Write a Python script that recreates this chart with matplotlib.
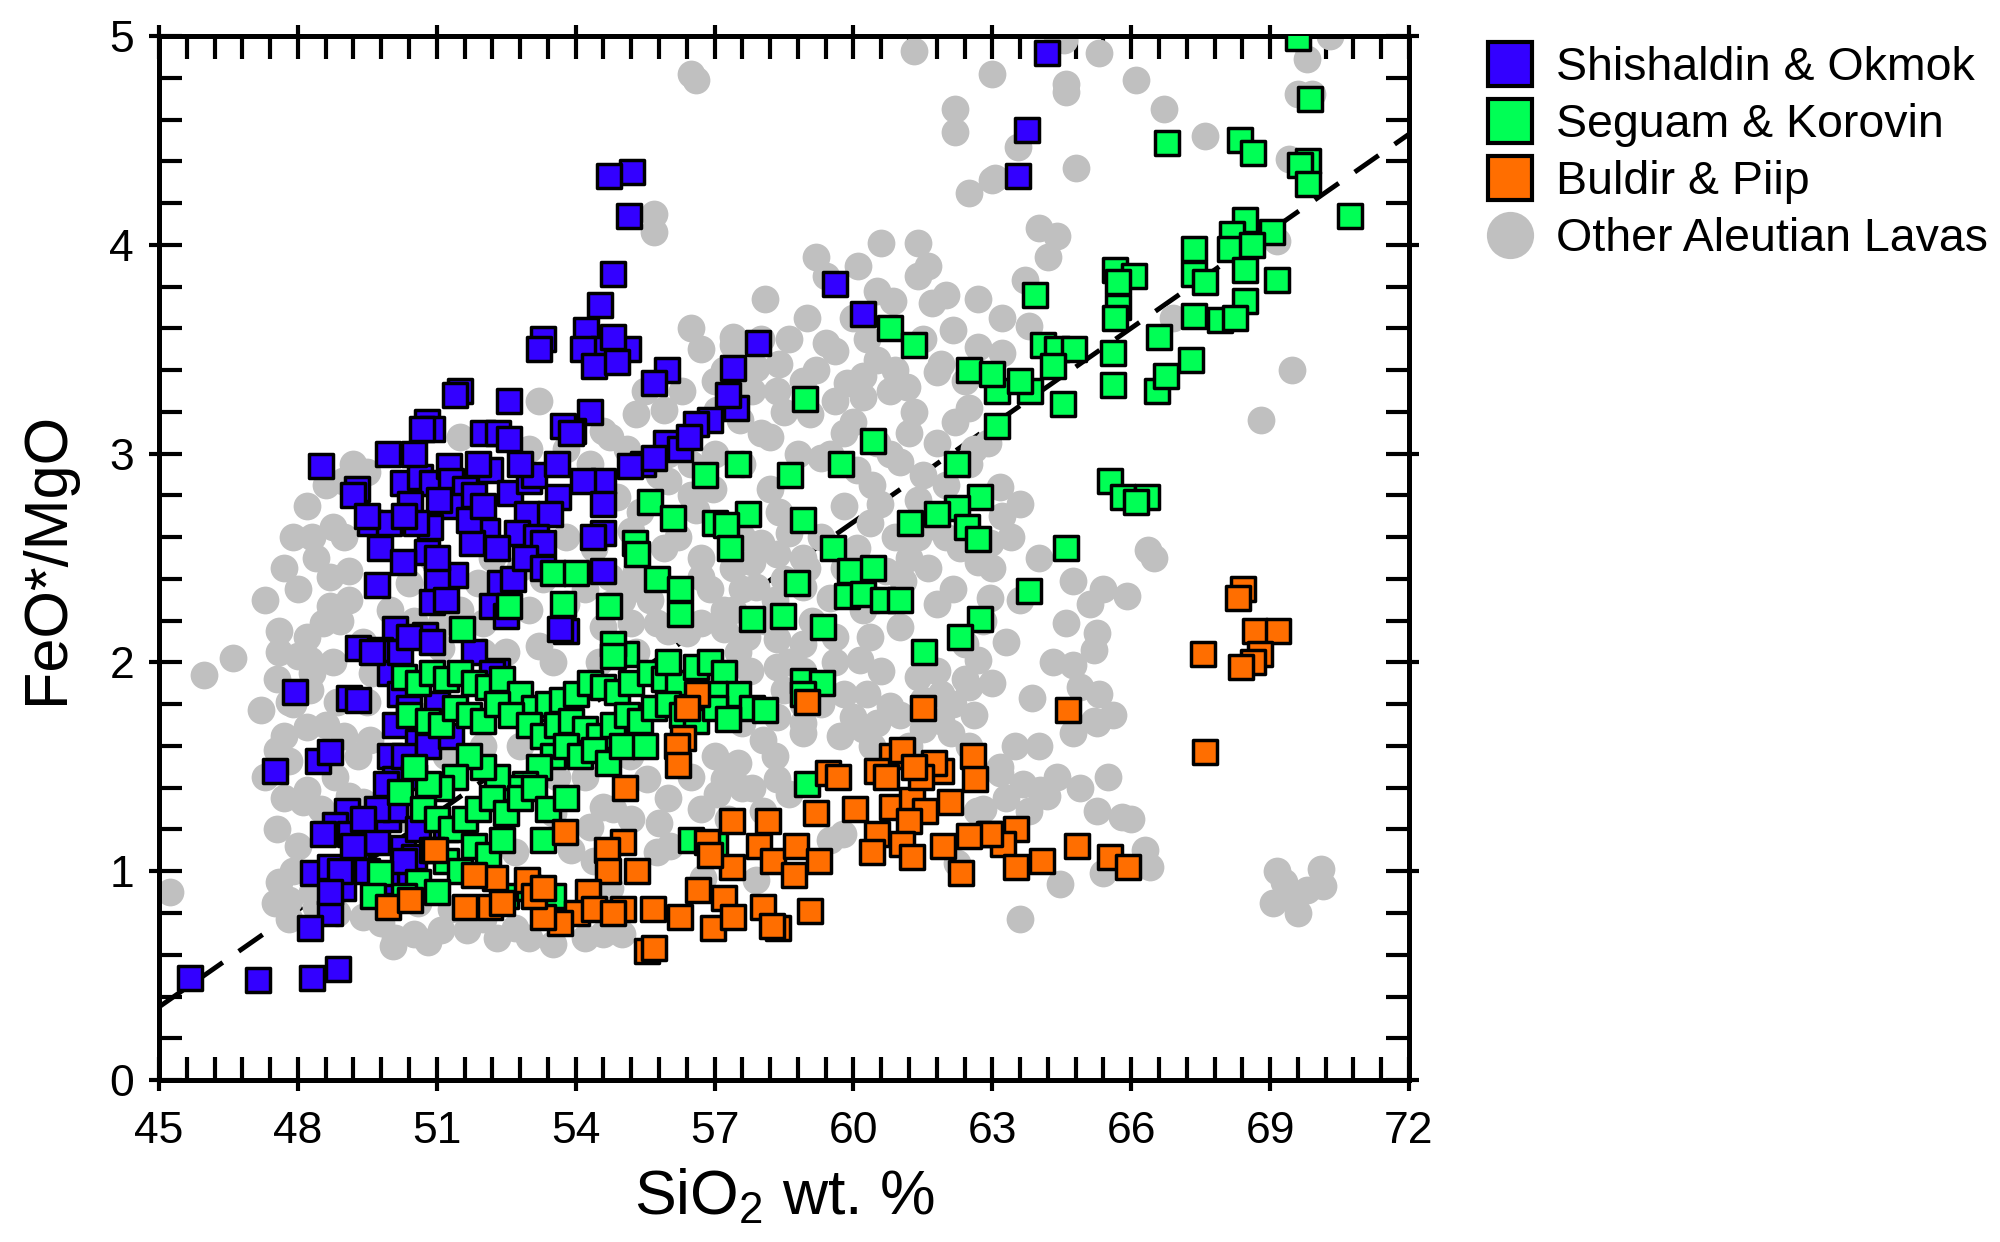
import numpy as np
import matplotlib.pyplot as plt
from matplotlib.lines import Line2D
from matplotlib.ticker import MultipleLocator, NullFormatter

plt.rcParams['font.family'] = ['Liberation Sans', 'DejaVu Sans']
plt.rcParams['mathtext.fontset'] = 'custom'
plt.rcParams['mathtext.rm'] = 'Liberation Sans'
plt.rcParams['mathtext.it'] = 'Liberation Sans:italic'

# SiO2 (wt. %), FeO*/MgO pairs for each group
shishaldin_okmok = np.array([
    (64.17, 4.92), (63.74, 4.55), (63.56, 4.33),
    (55.21, 4.35), (54.72, 4.33), (55.16, 4.14), (54.81, 3.86), (54.52, 3.71), (54.23, 3.59),
    (54.59, 3.50), (55.14, 3.50), (54.16, 3.50), (54.8, 3.56), (54.4, 3.42), (54.9, 3.44),
    (53.3, 3.55), (53.2, 3.50), (55.97, 3.40), (55.7, 3.34), (57.40, 3.41), (57.94, 3.53),
    (59.60, 3.81), (60.21, 3.67), (57.47, 3.22), (57.3, 3.28), (56.90, 3.16), (56.60, 3.14),
    (55.96, 3.05), (56.25, 3.02), (55.46, 2.95), (55.17, 2.94), (54.60, 2.87), (54.16, 2.87),
    (54.60, 2.76), (54.60, 2.62), (54.38, 2.60), (54.60, 2.44), (54.31, 3.20), (53.95, 3.11),
    (56.45, 3.08), (55.7, 2.98), (53.8, 2.15),
    (51.5, 3.30), (51.4, 3.28), (52.56, 3.25), (50.78, 3.15), (50.9, 3.12), (50.67, 3.12),
    (52.0, 3.10), (52.33, 3.10), (52.56, 3.07), (53.73, 3.13), (53.9, 3.10), (49.95, 3.00),
    (48.49, 2.94), (49.28, 2.83), (49.2, 2.80), (50.27, 2.86), (50.64, 2.89), (50.9, 2.86),
    (51.27, 2.94), (51.3, 2.87), (51.6, 2.83), (52.14, 2.92), (52.58, 2.81), (53.0, 2.87),
    (53.1, 2.90), (53.62, 2.79), (52.94, 2.71), (53.45, 2.71), (50.42, 2.76), (51.35, 2.75),
    (51.05, 2.78), (51.8, 2.80), (49.56, 2.67), (49.96, 2.67), (49.5, 2.70), (50.85, 2.65),
    (50.55, 2.67), (52.08, 2.63), (52.73, 2.62), (53.15, 2.60), (53.3, 2.57), (49.77, 2.55),
    (51.75, 2.57), (50.78, 2.53), (50.27, 2.48), (49.7, 2.37), (51.39, 2.42), (51.0, 2.40),
    (50.89, 2.29), (52.36, 2.38), (52.65, 2.40), (52.2, 2.27), (52.5, 2.22), (50.1, 2.16),
    (50.75, 2.13), (49.3, 2.07), (49.77, 2.06), (50.05, 2.05), (53.66, 2.16), (52.3, 1.96),
    (47.94, 1.86), (49.1, 1.83),
    (50.3, 2.70), (51.0, 2.50), (51.7, 2.68), (52.0, 2.75), (52.3, 2.55), (52.9, 2.50),
    (53.3, 2.45), (53.6, 2.95), (50.5, 3.00), (51.9, 2.95), (52.8, 2.95), (51.2, 2.30),
    (47.5, 1.48), (48.44, 1.53), (48.69, 1.57), (49.05, 1.29), (48.8, 1.22), (48.55, 1.18),
    (49.12, 1.18), (48.33, 0.99), (48.7, 1.02), (48.98, 0.92), (49.27, 1.05), (49.7, 1.14),
    (50.28, 1.11), (50.5, 1.07), (50.28, 0.98), (48.69, 0.80), (48.26, 0.73), (45.67, 0.49),
    (47.14, 0.48), (48.3, 0.49), (48.87, 0.53), (50.0, 1.55), (50.1, 1.44), (49.95, 1.25),
    (50.1, 1.30), (50.0, 1.95), (50.2, 1.85), (50.4, 1.78), (50.1, 1.70), (50.6, 1.62),
    (50.3, 1.55), (49.9, 1.42), (50.5, 1.45), (50.8, 1.60), (51.0, 1.80), (51.3, 1.65),
    (50.2, 2.05), (50.4, 2.12), (50.9, 2.10), (49.6, 2.05), (51.8, 2.05), (52.2, 1.95),
    (49.3, 1.82), (51.2, 1.20), (50.6, 1.20), (49.7, 1.30), (49.4, 1.25), (49.2, 1.12),
    (48.9, 1.00), (49.5, 1.00), (49.9, 0.95), (50.3, 1.05), (48.7, 0.90),
])

seguam_korovin = np.array([
    (69.6, 4.99), (69.86, 4.70), (66.77, 4.49), (68.35, 4.50), (68.63, 4.44), (69.82, 4.40),
    (69.64, 4.38), (69.82, 4.29), (70.72, 4.14), (68.46, 4.12), (69.03, 4.06), (68.17, 4.05),
    (68.13, 3.98), (68.6, 4.00), (67.35, 3.98), (67.35, 3.86), (65.65, 3.88), (66.05, 3.85),
    (65.72, 3.82), (68.46, 3.88), (67.6, 3.82), (69.14, 3.83), (68.46, 3.73), (65.72, 3.70),
    (63.92, 3.76), (67.35, 3.66), (67.92, 3.64), (68.25, 3.65), (65.65, 3.65), (66.6, 3.56),
    (64.1, 3.52), (64.4, 3.50), (64.77, 3.50), (67.3, 3.45), (65.6, 3.48), (64.3, 3.42),
    (65.6, 3.33), (66.55, 3.30), (66.76, 3.37), (64.53, 3.24), (63.81, 3.30), (63.09, 3.30),
    (63.6, 3.35), (63.09, 3.13), (62.5, 3.40), (63.0, 3.38), (60.8, 3.60), (61.3, 3.52),
    (65.54, 2.87), (65.83, 2.79), (66.33, 2.79), (66.1, 2.77), (64.6, 2.55), (63.8, 2.34),
    (58.95, 3.26), (60.43, 3.06), (62.23, 2.95), (62.73, 2.79), (62.23, 2.74), (62.45, 2.65),
    (62.7, 2.59), (61.8, 2.71), (61.22, 2.67), (59.74, 2.95), (57.51, 2.95), (58.63, 2.90),
    (56.79, 2.90), (57.73, 2.71), (57.0, 2.67), (57.25, 2.66), (55.6, 2.77), (56.1, 2.69),
    (58.9, 2.68), (57.33, 2.55), (59.56, 2.55), (55.28, 2.57), (55.32, 2.52), (59.92, 2.44),
    (60.42, 2.45), (58.77, 2.38), (55.75, 2.40), (56.25, 2.35), (56.25, 2.23), (59.85, 2.32),
    (60.21, 2.33), (60.64, 2.30), (61.0, 2.30), (57.8, 2.21), (58.48, 2.22), (59.35, 2.17),
    (62.73, 2.21), (62.3, 2.12), (61.53, 2.05), (54.73, 2.27), (55.09, 2.04), (54.8, 2.09),
    (54.8, 2.03), (58.9, 1.91), (59.32, 1.90), (58.9, 1.85), (59.0, 1.42),
    (53.51, 2.43), (52.57, 2.27), (51.55, 2.16), (53.73, 2.28), (54.0, 2.43),
    (50.3, 1.93), (50.6, 1.90), (50.9, 1.95), (51.2, 1.92), (51.5, 1.95), (51.8, 1.90),
    (52.1, 1.88), (52.4, 1.92), (52.8, 1.85), (53.1, 1.78), (53.4, 1.80), (53.7, 1.82),
    (54.0, 1.85), (54.3, 1.90), (54.6, 1.88), (54.9, 1.86), (55.2, 1.90), (55.6, 1.95),
    (55.9, 1.92), (56.2, 1.90), (56.6, 1.98), (56.9, 2.00), (57.2, 1.95), (57.5, 1.85),
    (57.8, 1.78), (58.1, 1.77), (56.0, 2.00), (57.0, 1.85),
    (50.4, 1.75), (50.8, 1.72), (51.1, 1.70), (51.4, 1.78), (51.7, 1.75), (52.0, 1.72),
    (52.3, 1.80), (52.6, 1.75), (53.0, 1.70), (53.3, 1.65), (53.6, 1.70), (53.9, 1.72),
    (54.2, 1.68), (54.5, 1.65), (54.8, 1.70), (55.1, 1.75), (55.4, 1.72), (55.7, 1.78),
    (56.0, 1.80), (56.3, 1.75), (56.6, 1.72), (57.0, 1.78), (57.3, 1.73),
    (53.5, 1.55), (53.8, 1.60), (54.1, 1.55), (54.4, 1.58), (54.7, 1.52), (55.0, 1.60),
    (55.5, 1.60), (53.2, 1.50), (52.9, 1.42), (52.6, 1.40), (52.3, 1.45), (52.0, 1.50),
    (51.7, 1.55), (51.4, 1.45), (51.1, 1.40), (50.8, 1.42), (50.5, 1.50), (50.2, 1.38),
    (50.7, 1.30), (51.0, 1.25), (51.3, 1.20), (51.6, 1.25), (51.9, 1.30), (52.2, 1.35),
    (52.5, 1.28), (52.8, 1.35), (53.1, 1.40), (53.4, 1.30), (53.8, 1.35), (53.3, 1.15),
    (50.9, 1.10), (51.2, 1.05), (51.5, 1.00), (51.8, 1.12), (52.1, 1.08), (52.4, 1.15),
    (50.6, 0.95), (49.77, 0.99), (49.63, 0.88), (50.3, 0.88), (51.0, 0.90), (52.5, 0.88),
    (53.0, 0.92), (53.5, 0.88), (56.5, 1.15), (57.0, 1.13),
])

buldir_piip = np.array([
    (68.42, 2.35), (68.31, 2.31), (68.67, 2.15), (69.18, 2.15), (67.55, 2.04), (68.78, 2.04),
    (68.64, 2.00), (68.38, 1.98), (67.59, 1.57), (64.64, 1.77), (61.5, 1.78), (59.0, 1.81),
    (56.61, 1.85), (56.4, 1.78), (56.32, 1.64), (56.18, 1.60), (56.2, 1.51), (55.06, 1.40),
    (53.77, 1.19), (55.03, 1.14), (54.67, 1.10), (54.7, 1.00), (55.32, 1.00), (54.27, 0.90),
    (54.02, 0.80), (55.03, 0.82), (55.68, 0.82), (55.53, 0.62), (55.7, 0.63), (56.25, 0.78),
    (56.65, 0.91), (57.2, 0.87), (56.97, 0.73), (57.4, 0.78), (58.05, 0.83), (58.38, 0.73),
    (58.25, 0.74), (59.06, 0.81), (56.83, 1.14), (57.37, 1.24), (57.37, 1.02), (56.9, 1.08),
    (58.16, 1.24), (57.95, 1.12), (58.27, 1.05), (58.76, 1.12), (58.72, 0.98), (59.25, 1.05),
    (59.2, 1.28), (59.46, 1.47), (59.67, 1.45), (60.03, 1.30), (60.5, 1.18), (60.39, 1.09),
    (60.83, 1.55), (61.05, 1.58), (60.5, 1.48), (60.83, 1.31), (61.26, 1.34), (61.55, 1.29),
    (61.19, 1.24), (61.05, 1.13), (61.26, 1.07), (61.9, 1.48), (61.75, 1.52), (62.58, 1.55),
    (62.62, 1.44), (62.08, 1.33), (61.93, 1.12), (62.32, 0.99), (62.93, 1.18), (61.46, 1.45),
    (61.3, 1.50), (60.7, 1.45), (63.52, 1.20), (63.24, 1.13), (62.95, 1.18), (63.52, 1.02),
    (64.07, 1.05), (64.82, 1.12), (65.54, 1.07), (65.93, 1.02), (62.5, 1.17),
    (50.96, 1.10), (52.26, 0.97), (52.94, 0.96), (51.61, 0.83), (52.15, 0.83), (53.66, 0.75),
    (49.95, 0.83), (50.42, 0.86), (52.4, 0.85), (53.3, 0.78), (53.1, 0.88), (54.4, 0.82),
    (54.8, 0.80), (51.8, 0.98), (53.3, 0.92),
])

other_aleutian = np.array([
    (56.5, 4.82), (56.6, 4.79), (61.3, 4.93), (63.0, 4.82), (64.4, 5.0), (64.55, 4.98),
    (65.3, 4.92), (64.6, 4.77), (64.6, 4.73), (66.1, 4.79), (69.8, 4.89), (70.3, 5.0),
    (69.6, 4.72), (69.9, 4.72), (62.2, 4.65), (62.2, 4.54), (66.7, 4.65), (67.6, 4.52),
    (63.55, 4.47), (63.0, 4.31), (62.5, 4.25), (64.8, 4.37), (63.05, 4.32), (69.4, 4.41),
    (55.7, 4.15), (55.7, 4.06), (61.4, 4.01), (60.6, 4.01), (61.6, 3.9), (59.2, 3.94),
    (60.1, 3.9), (64.0, 4.08), (64.4, 4.04), (64.2, 3.94), (69.15, 4.02),
    (63.7, 3.83), (63.2, 3.65), (63.8, 3.61), (61.4, 3.85), (59.4, 3.85), (60.5, 3.78),
    (60.85, 3.73), (61.7, 3.72), (62.0, 3.76), (62.7, 3.74), (60.0, 3.65), (58.1, 3.74),
    (62.15, 3.59), (66.9, 3.65), (59.4, 3.53), (59.6, 3.49), (58.6, 3.55), (56.7, 3.5),
    (57.4, 3.56), (57.9, 3.41), (58.4, 3.43), (61.9, 3.43), (62.7, 3.51), (60.5, 3.45),
    (60.9, 3.4), (60.2, 3.37), (63.2, 3.48), (69.47, 3.4), (53.2, 3.25),
    (58.35, 3.3), (59.06, 3.19), (59.86, 3.34), (60.2, 3.27), (60.8, 3.3), (61.15, 3.32),
    (61.8, 3.39), (62.5, 3.22), (55.3, 3.19), (55.9, 3.21), (57.05, 3.21), (57.55, 3.16),
    (54.6, 3.11), (54.75, 3.08), (58.2, 3.08), (68.8, 3.16), (61.3, 3.2), (59.6, 3.25),
    (62.6, 3.02), (61.0, 2.96), (58.8, 3.0), (59.3, 2.98), (60.07, 2.92), (55.1, 3.02),
    (56.0, 2.87), (51.5, 3.08), (53.0, 3.02), (53.8, 3.02), (48.97, 2.87), (49.5, 2.91),
    (63.16, 2.84), (60.5, 3.05), (60.57, 2.76), (61.4, 2.78), (61.4, 2.6), (61.8, 2.65),
    (56.96, 2.83), (56.6, 2.73), (58.2, 2.83), (58.4, 2.72), (59.8, 2.75), (60.36, 2.67),
    (58.6, 2.62), (54.9, 2.79), (55.4, 2.72), (55.2, 2.63), (48.75, 2.65), (63.6, 2.76),
    (53.8, 2.6), (62.7, 2.48), (62.15, 2.35), (61.07, 2.39), (58.0, 2.57), (57.8, 2.48),
    (58.35, 2.52), (58.9, 2.5), (60.07, 2.55), (60.7, 2.44), (55.3, 2.44), (54.75, 2.41),
    (56.7, 2.5), (56.7, 2.41), (48.7, 2.41), (49.1, 2.44), (50.4, 2.38), (51.9, 2.38),
    (66.36, 2.54), (66.5, 2.5), (62.95, 2.57), (64.75, 2.39), (61.8, 2.28), (58.9, 2.36),
    (59.5, 2.31), (57.9, 2.36), (57.6, 2.35), (57.2, 2.25), (54.75, 2.28), (48.7, 2.27),
    (47.3, 2.30), (49.1, 2.3), (52.4, 2.3), (53.0, 2.25), (53.8, 2.28), (65.4, 2.35),
    (65.9, 2.32), (65.1, 2.28), (62.95, 2.31), (64.6, 2.19), (61.0, 2.17), (62.4, 2.09),
    (56.7, 2.19), (57.2, 2.16), (57.7, 2.12), (58.35, 2.11), (58.9, 2.09), (59.6, 2.12),
    (60.36, 2.12), (60.14, 2.01), (59.6, 2.0), (55.75, 2.19), (55.2, 2.19), (54.6, 2.17),
    (56.4, 2.14), (48.2, 2.12), (48.55, 2.19), (52.0, 2.19), (51.1, 2.19), (51.1, 2.07),
    (53.2, 2.08), (48.0, 2.03), (47.6, 2.05), (46.6, 2.02), (48.26, 2.01), (48.75, 2.0),
    (65.26, 2.14), (65.2, 2.06), (64.3, 2.0), (64.75, 1.99), (62.7, 2.01), (61.8, 1.96),
    (62.4, 1.92), (61.4, 1.93), (60.6, 1.96), (60.8, 1.79), (61.5, 1.82), (62.15, 1.8),
    (58.9, 1.96), (58.35, 1.98), (57.76, 1.96), (58.5, 1.87), (58.9, 1.8), (47.55, 1.92),
    (45.97, 1.94), (47.8, 1.81), (48.26, 1.87), (48.84, 1.81), (49.5, 1.81), (63.85, 1.83),
    (64.9, 1.88), (65.3, 1.85), (58.35, 1.74), (57.6, 1.71), (58.9, 1.71), (60.0, 1.74),
    (60.5, 1.71), (47.2, 1.77), (58.9, 1.66), (60.2, 1.68), (61.5, 1.68), (62.1, 1.66),
    (58.05, 1.63), (48.2, 1.69), (49.56, 1.63), (65.6, 1.75), (65.2, 1.72), (64.75, 1.66),
    (65.26, 1.71), (47.7, 1.65), (57.5, 1.52), (57.2, 1.44), (58.35, 1.44), (55.54, 1.44),
    (55.17, 1.55), (47.55, 1.58), (47.8, 1.53), (48.2, 1.39), (63.16, 1.5), (63.16, 1.47),
    (63.66, 1.42), (64.03, 1.39), (57.6, 1.40), (57.05, 1.37), (58.6, 1.37), (58.05, 1.29),
    (54.6, 1.31), (54.3, 1.21), (55.8, 1.23), (47.55, 1.2), (48.1, 1.33), (49.1, 1.36),
    (49.4, 1.33), (53.5, 1.28), (62.67, 1.29), (59.77, 1.18), (64.18, 1.36), (63.8, 1.29),
    (65.26, 1.29), (65.8, 1.26), (66.0, 1.25), (56.04, 1.12), (55.75, 1.09), (48.0, 1.12),
    (52.7, 1.09), (62.24, 1.04), (59.5, 1.15), (66.3, 1.10), (66.4, 1.02), (69.15, 1.0),
    (70.1, 1.01), (56.75, 0.97), (57.9, 0.96), (54.74, 0.92), (47.8, 0.86), (48.4, 0.83),
    (48.84, 0.80), (45.24, 0.9), (64.46, 0.94), (65.4, 0.99), (69.06, 0.85), (69.6, 0.80),
    (70.15, 0.93), (69.8, 0.91), (69.4, 0.88), (69.3, 0.95), (47.8, 0.77), (49.4, 0.78),
    (50.1, 0.68), (50.05, 0.64), (50.5, 0.7), (50.8, 0.66), (51.1, 0.72), (51.65, 0.72),
    (52.7, 0.73), (52.0, 0.77), (63.6, 0.77),
    (47.7, 2.45), (47.9, 2.6), (48.2, 2.75), (48.4, 2.5), (48.0, 2.35), (47.6, 2.15),
    (48.3, 1.95), (48.9, 2.2), (49.0, 2.6), (48.6, 1.7), (49.0, 1.65), (49.3, 1.55),
    (48.8, 1.45), (48.5, 1.3), (48.9, 1.25), (47.9, 1.0), (48.3, 0.9), (47.6, 0.95),
    (47.7, 1.35), (47.9, 1.8), (49.4, 2.1), (49.6, 1.95), (50.0, 2.25), (50.5, 2.2),
    (50.9, 2.5), (51.5, 2.25), (52.2, 2.5), (52.8, 2.45), (53.3, 2.4), (53.0, 2.6),
    (52.5, 2.05), (53.5, 2.0), (52.0, 2.05), (50.6, 0.85), (51.3, 0.82), (52.3, 0.68),
    (53.0, 0.68), (53.5, 0.65), (54.2, 0.68), (54.6, 0.7), (55.0, 0.7), (49.8, 0.75),
    (50.4, 1.25), (51.2, 1.55), (52.0, 1.6), (52.8, 1.6), (53.6, 1.45), (54.2, 1.45),
    (54.8, 1.3), (53.9, 1.1), (54.4, 1.05), (62.8, 1.3), (63.3, 1.35), (62.5, 1.6),
    (63.5, 1.6), (64.0, 1.6), (64.4, 1.45), (64.9, 1.4), (65.5, 1.45),
    (56.0, 3.0), (56.5, 2.95), (57.0, 3.0), (57.6, 2.95), (58.0, 3.1), (58.5, 3.2),
    (59.2, 3.4), (59.8, 3.1), (60.4, 2.85), (61.2, 3.1), (61.8, 3.05), (62.2, 3.15),
    (62.0, 2.85), (62.3, 2.55), (61.6, 2.45), (60.9, 2.6), (60.2, 2.25), (59.3, 2.6),
    (59.1, 2.2), (58.3, 2.3), (57.4, 2.45), (56.2, 2.6), (55.8, 2.9), (55.6, 2.3),
    (55.0, 2.3), (54.4, 2.55), (54.2, 2.35), (57.0, 1.9), (56.3, 1.85), (57.5, 2.05),
    (59.8, 1.85), (60.3, 1.85), (61.0, 1.75), (61.9, 1.72), (62.6, 1.75), (63.0, 1.9),
    (63.3, 2.1), (63.6, 2.3), (64.0, 2.5), (63.4, 2.6), (56.5, 3.6), (57.4, 3.52),
    (54.3, 2.95), (55.5, 3.3), (56.3, 3.3), (57.0, 3.35), (57.8, 3.3), (58.9, 3.35),
    (59.5, 3.0), (60.0, 3.15), (60.8, 3.0), (61.5, 2.9), (62.0, 2.6), (61.2, 2.5),
    (60.5, 2.3), (59.8, 2.45), (59.0, 2.45), (58.5, 2.4), (57.6, 2.6), (56.9, 2.35),
    (56.5, 2.8), (55.9, 2.55), (55.2, 2.35), (54.5, 2.0), (55.3, 2.05), (56.0, 2.15),
    (57.4, 2.25), (58.1, 2.2), (58.6, 2.0), (59.3, 1.8), (59.7, 1.65), (60.4, 1.6),
    (61.2, 1.6), (61.9, 1.85), (62.5, 1.88), (62.8, 2.2), (63.0, 2.45), (63.2, 2.7),
    (62.5, 2.95), (62.9, 3.05), (61.5, 3.55), (60.3, 3.55), (59.0, 3.65), (58.0, 3.55),
    (57.2, 3.4), (62.4, 3.35), (56.5, 1.45), (57.0, 1.55), (56.7, 1.3), (57.3, 1.25),
    (56.0, 1.35), (55.2, 1.25), (57.8, 1.4), (58.3, 1.55), (48.6, 2.85), (48.3, 2.6),
    (47.5, 0.85), (47.3, 1.45), (49.2, 2.95),
])

# regression line end points
trend_x = [45, 72]
trend_y = [0.35, 4.53]

labels = ['Shishaldin & Okmok', 'Seguam & Korovin', 'Buldir & Piip', 'Other Aleutian Lavas']
colors = ['#3300ff', '#00ff55', '#ff6e00', '#c0c0c0']

fig = plt.figure(figsize=(20, 12.42), dpi=100)
ax = fig.add_axes([0.0795, 0.1304, 0.625, 0.8406])

ax.plot(trend_x, trend_y, color='black', lw=3.5, dashes=(6, 4), zorder=1)
ax.scatter(other_aleutian[:, 0], other_aleutian[:, 1], s=400, marker='o',
           color=colors[3], linewidths=0, zorder=2)
for grp, col, z in [(shishaldin_okmok, colors[0], 3), (seguam_korovin, colors[1], 4),
                    (buldir_piip, colors[2], 5)]:
    ax.scatter(grp[:, 0], grp[:, 1], s=290, marker='s', color=col,
               edgecolors='black', linewidths=2.5, zorder=z)

ax.set_xlim(45, 72)
ax.set_ylim(0, 5)
ax.xaxis.set_major_locator(MultipleLocator(3))
ax.xaxis.set_minor_locator(MultipleLocator(0.6))
ax.yaxis.set_major_locator(MultipleLocator(1))
ax.yaxis.set_minor_locator(MultipleLocator(0.2))
ax.tick_params(which='both', direction='in', top=True, right=True,
               width=3, length=16.5, labelsize=32)
ax.tick_params(axis='x', pad=22)
ax.tick_params(axis='y', pad=18)
for sp in ax.spines.values():
    sp.set_linewidth(3.6)

# short outward stubs on the major ticks
for side in ['bottom', 'top']:
    sec = ax.secondary_xaxis(side)
    sec.set_xticks(np.arange(45, 73, 3))
    sec.xaxis.set_major_formatter(NullFormatter())
    sec.tick_params(direction='out', length=8, width=3)
    for sp in sec.spines.values():
        sp.set_visible(False)
for side in ['left', 'right']:
    sec = ax.secondary_yaxis(side)
    sec.set_yticks(np.arange(0, 6, 1))
    sec.yaxis.set_major_formatter(NullFormatter())
    sec.tick_params(direction='out', length=7, width=3)
    for sp in sec.spines.values():
        sp.set_visible(False)

ax.set_xlabel('SiO$_2$ wt. %', fontsize=45, labelpad=11)
ax.set_ylabel('FeO*/MgO', fontsize=44, labelpad=24)

handles = [Line2D([], [], ls='none', marker='s', markersize=31, markerfacecolor=c,
                  markeredgecolor='black', markeredgewidth=3) for c in colors[:3]]
handles.append(Line2D([], [], ls='none', marker='o', markersize=34,
                      markerfacecolor=colors[3], markeredgewidth=0))
fig.legend(handles, labels, loc='upper left', bbox_to_anchor=(0.7435, 0.963),
           frameon=False, fontsize=33.5, handlelength=1.0, handletextpad=0.48,
           labelspacing=0.28, borderpad=0, borderaxespad=0)

fig.savefig('out.png', dpi=100)
